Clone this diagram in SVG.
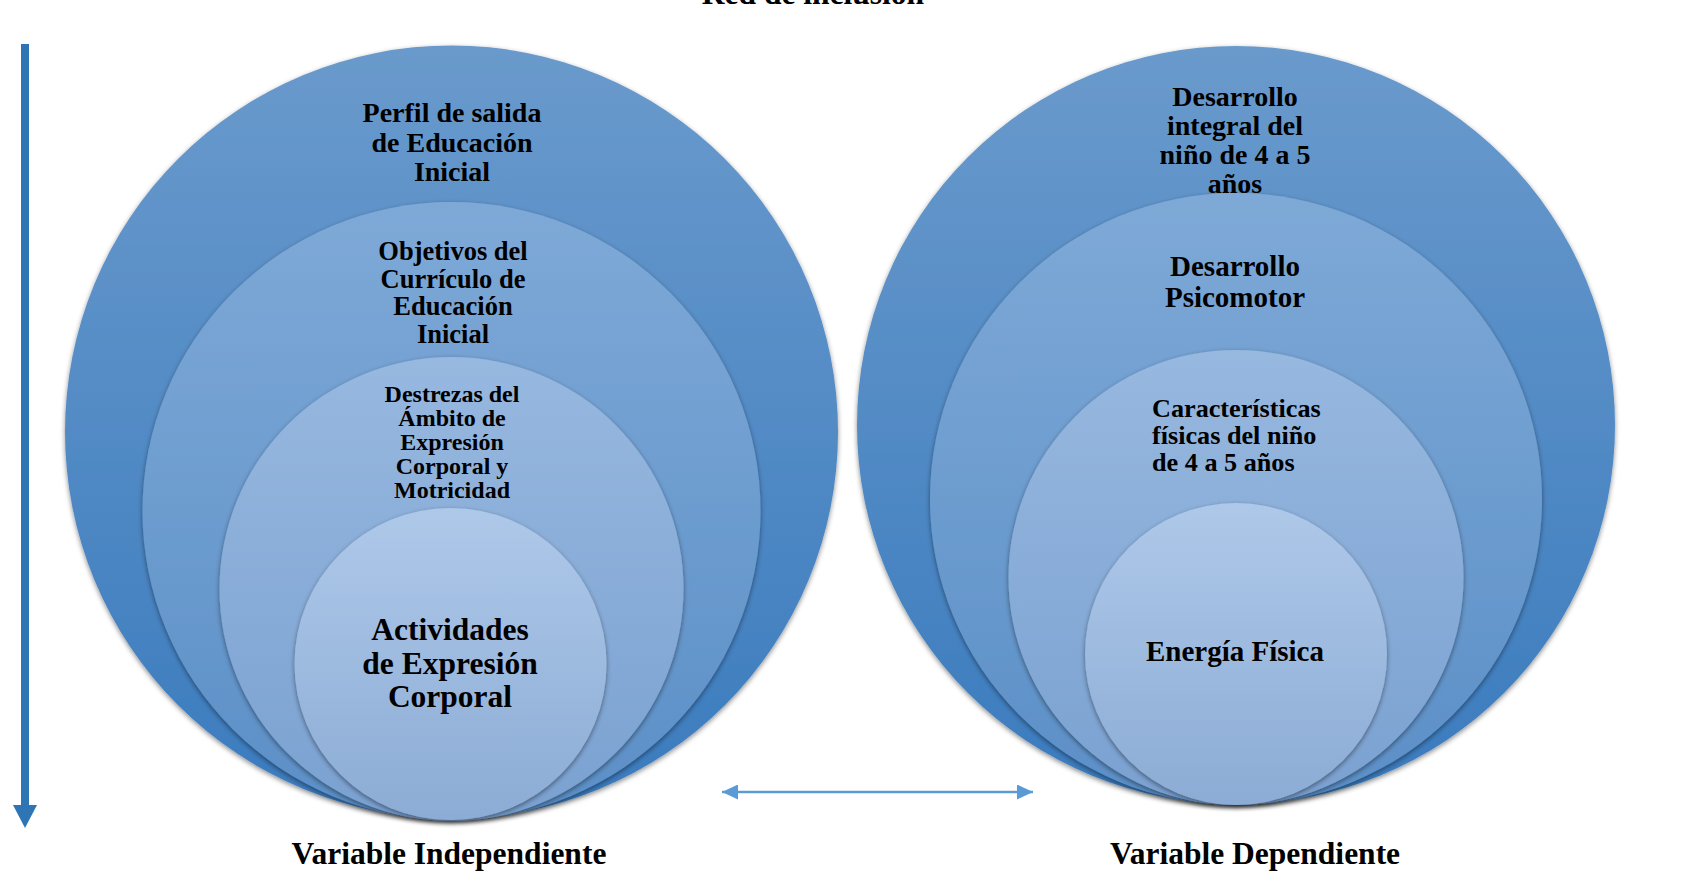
<svg xmlns="http://www.w3.org/2000/svg" width="1695" height="872" viewBox="0 0 1695 872">
<defs>
<linearGradient id="g1" x1="0" y1="0" x2="0" y2="1"><stop offset="0" stop-color="#6a9acc"/><stop offset="1" stop-color="#3a7bbe"/></linearGradient>
<linearGradient id="g2" x1="0" y1="0" x2="0" y2="1"><stop offset="0" stop-color="#7ea9d7"/><stop offset="1" stop-color="#5b8fc7"/></linearGradient>
<linearGradient id="g3" x1="0" y1="0" x2="0" y2="1"><stop offset="0" stop-color="#97b8df"/><stop offset="1" stop-color="#7aa1d1"/></linearGradient>
<linearGradient id="g4" x1="0" y1="0" x2="0" y2="1"><stop offset="0" stop-color="#aec8e9"/><stop offset="1" stop-color="#8cacd5"/></linearGradient>
<filter id="sh" x="-10%" y="-10%" width="120%" height="125%"><feDropShadow dx="0" dy="2" stdDeviation="2.5" flood-color="#000" flood-opacity="0.45"/></filter>
<marker id="ah" viewBox="0 0 16 15" refX="16" refY="7.5" markerWidth="16" markerHeight="15" markerUnits="userSpaceOnUse" orient="auto-start-reverse"><path d="M0,0 L16,7.5 L0,15 Z" fill="#5b9bd5"/></marker>
</defs>
<style>
text{font-family:"Liberation Serif","Times New Roman",serif;font-weight:bold;fill:#000;text-anchor:middle}
.c{filter:url(#sh)}
</style>
<rect width="1695" height="872" fill="#fff"/>
<text x="813" y="3.5" font-size="31.5">Red de inclusión</text>
<g id="connectors">
<rect x="21" y="44" width="8" height="762" fill="#2e75b6"/>
<path d="M13,805 L37,805 L25,828 Z" fill="#2e75b6"/>
<line x1="722" y1="792" x2="1033" y2="792" stroke="#5b9bd5" stroke-width="2.4" marker-start="url(#ah)" marker-end="url(#ah)"/>
</g>
<g id="left-outer"><circle class="c" cx="451.5" cy="432" r="386.5" fill="url(#g1)"/>
<text font-size="28" x="452"><tspan x="452" y="122">Perfil de salida</tspan><tspan x="452" y="152">de Educación</tspan><tspan x="452" y="181">Inicial</tspan></text></g>
<g id="left-2"><circle class="c" cx="451.5" cy="511" r="309" fill="url(#g2)"/>
<text font-size="26.5"><tspan x="453" y="260">Objetivos del</tspan><tspan x="453" y="288">Currículo de</tspan><tspan x="453" y="315">Educación</tspan><tspan x="453" y="343">Inicial</tspan></text></g>
<g id="left-3"><circle class="c" cx="451.5" cy="589" r="232" fill="url(#g3)"/>
<text font-size="24"><tspan x="452" y="402">Destrezas del</tspan><tspan x="452" y="426">Ámbito de</tspan><tspan x="452" y="450">Expresión</tspan><tspan x="452" y="474">Corporal y</tspan><tspan x="452" y="498">Motricidad</tspan></text></g>
<g id="left-4"><circle class="c" cx="450.5" cy="664" r="156" fill="url(#g4)"/>
<text font-size="31.5"><tspan x="450" y="640">Actividades</tspan><tspan x="450" y="674">de Expresión</tspan><tspan x="450" y="707">Corporal</tspan></text></g>
<g id="right-outer"><circle class="c" cx="1236" cy="425" r="379" fill="url(#g1)"/>
<text font-size="28"><tspan x="1235" y="106">Desarrollo</tspan><tspan x="1235" y="135">integral del</tspan><tspan x="1235" y="164">niño de 4 a 5</tspan><tspan x="1235" y="193">años</tspan></text></g>
<g id="right-2"><circle class="c" cx="1236" cy="499" r="306" fill="url(#g2)"/>
<text font-size="29"><tspan x="1235" y="276">Desarrollo</tspan><tspan x="1235" y="307">Psicomotor</tspan></text></g>
<g id="right-3"><circle class="c" cx="1236" cy="577.5" r="227.5" fill="url(#g3)"/>
<text font-size="26.2" style="text-anchor:start"><tspan x="1152" y="417">Características</tspan><tspan x="1152" y="444">físicas del niño</tspan><tspan x="1152" y="471">de 4 a 5 años</tspan></text></g>
<g id="right-4"><circle class="c" cx="1236" cy="654" r="151" fill="url(#g4)"/>
<text x="1235" y="661" font-size="29">Energía Física</text></g>
<text x="449" y="864" font-size="31.5">Variable Independiente</text>
<text x="1255" y="864" font-size="31.5">Variable Dependiente</text>
</svg>
